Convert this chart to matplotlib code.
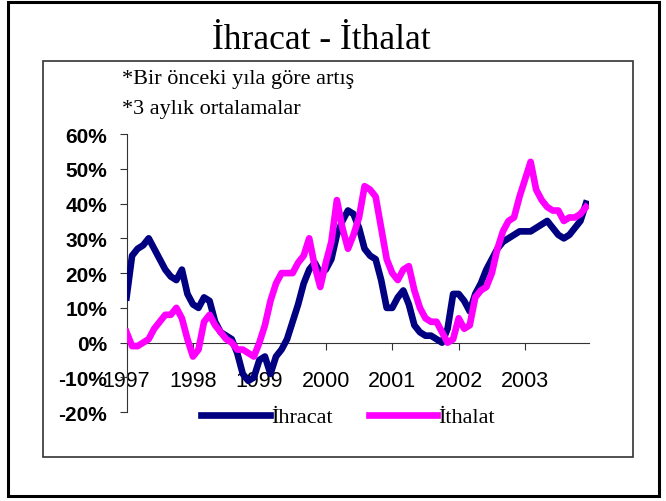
import numpy as np
import matplotlib
matplotlib.use("Agg")
import matplotlib.pyplot as plt
from matplotlib.patches import Rectangle

# monthly, Jan 1997 - Dec 2003, 3-month averages, yoy change (%)
years = ["1997", "1998", "1999", "2000", "2001", "2002", "2003"]
yticks = [-20, -10, 0, 10, 20, 30, 40, 50, 60]

ihracat = [13, 25, 27, 28, 30, 27, 24, 21, 19, 18,
           21, 14, 11, 10, 13, 12, 6, 3, 2, 1,
           -3, -9, -11, -10, -5, -4, -9, -4, -2, 1,
           6, 11, 17, 21, 23, 20, 21, 24, 31, 35,
           38, 37, 33, 27, 25, 24, 18, 10, 10, 13,
           15, 11, 5, 3, 2, 2, 1, 0, 4, 14,
           14, 12, 9, 14, 17, 21, 24, 27, 29, 30,
           31, 32, 32, 32, 33, 34, 35, 33, 31, 30,
           31, 33, 35, 40]

ithalat = [3, -1, -1, 0, 1, 4, 6, 8, 8, 10,
           7, 1, -4, -2, 6, 8, 5, 3, 1, 0,
           -2, -2, -3, -4, 0, 5, 12, 17, 20, 20,
           20, 23, 25, 30, 22, 16, 23, 29, 41, 33,
           27, 31, 36, 45, 44, 42, 33, 24, 20, 18,
           21, 22, 15, 10, 7, 6, 6, 3, 0, 1,
           7, 4, 5, 13, 15, 16, 20, 27, 32, 35,
           36, 42, 47, 52, 44, 41, 39, 38, 38, 35,
           36, 36, 37, 39]

fig = plt.figure(figsize=(6.66, 5.02), dpi=100)

# outer frame and inner chart box
fig.patches.append(Rectangle((0.012, 0.010), 0.977, 0.984, transform=fig.transFigure,
                             fill=False, edgecolor="black", linewidth=2.2))
fig.patches.append(Rectangle((0.0646, 0.0876), 0.886, 0.789, transform=fig.transFigure,
                             fill=False, edgecolor="#333333", linewidth=1.2))

fig.text(0.482, 0.920, "İhracat - İthalat", ha="center", va="center",
         fontsize=25.5, family="Liberation Serif")
fig.text(0.183, 0.841, "*Bir önceki yıla göre artış", ha="left", va="center",
         fontsize=16, family="Liberation Serif")
fig.text(0.183, 0.781, "*3 aylık ortalamalar", ha="left", va="center",
         fontsize=16, family="Liberation Serif")

ax = fig.add_axes([0.190, 0.177, 0.694, 0.554])
for s in ["top", "right"]:
    ax.spines[s].set_visible(False)
ax.spines["bottom"].set_position(("data", 0))
ax.spines["left"].set_color("#333333")
ax.spines["bottom"].set_color("#333333")

x = np.arange(len(ihracat))
ax.plot(x, ihracat, color="#000080", linewidth=4.8, label="İhracat", zorder=3)
ax.plot(x, ithalat, color="#FF00FF", linewidth=4.8, label="İthalat", zorder=4)

ax.set_xlim(0, 83.5)
ax.set_ylim(-20, 60)
ax.set_yticks(yticks)
ax.set_yticklabels([f"{v}%" for v in yticks], fontsize=15, fontweight="bold",
                   family="Liberation Sans")
ax.set_xticks(np.arange(len(years)) * 12)
ax.set_xticklabels(years, fontsize=15.5, family="Liberation Sans")
ax.tick_params(axis="y", direction="out", length=5, pad=9, color="#333333")
ax.tick_params(axis="x", direction="out", length=5, pad=15, color="#333333")

ax.legend(loc="center", bbox_to_anchor=(0.523, 0.167), bbox_transform=fig.transFigure,
          ncol=2, frameon=False, handlelength=3.1, handletextpad=0.05,
          columnspacing=1.6, prop={"family": "Liberation Serif", "size": 16})

fig.savefig("out.png", dpi=100)
